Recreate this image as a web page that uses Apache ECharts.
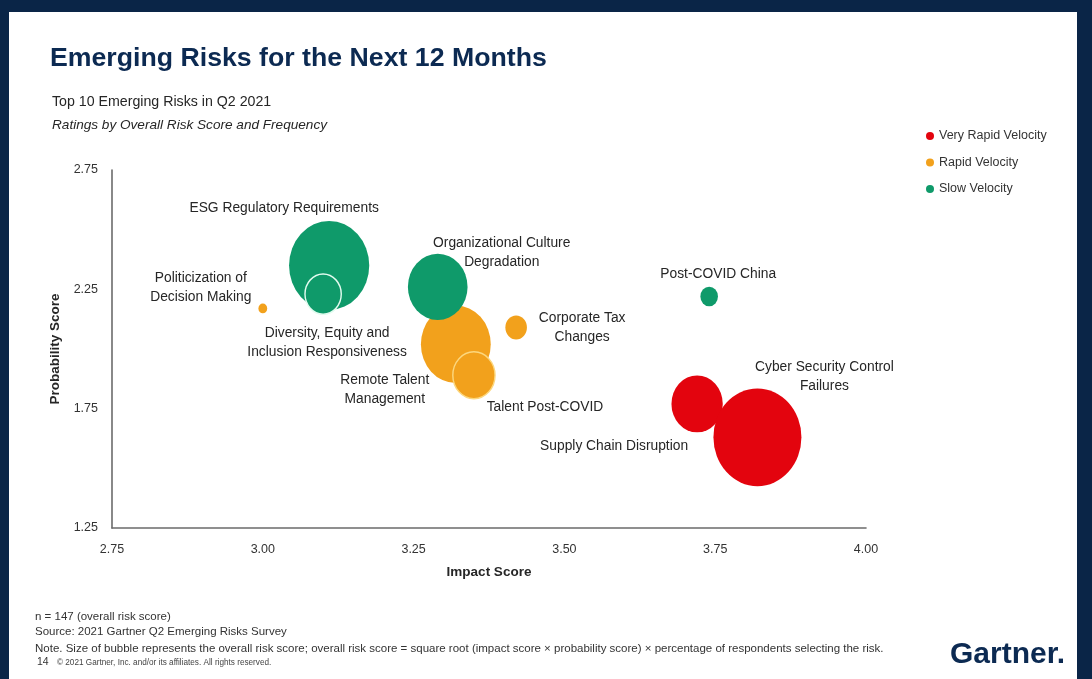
<!DOCTYPE html>
<html>
<head>
<meta charset="utf-8">
<script src="https://cdn.jsdelivr.net/npm/echarts@6/dist/echarts.min.js"></script>
<style>
  html, body { margin: 0; padding: 0; background: #0a2547; }
  #card { position: absolute; left: 9px; top: 12px; width: 1068px; height: 667px; background: #ffffff; }
  #chart { position: absolute; left: 0; top: 0; width: 1092px; height: 679px; }
</style>
</head>
<body>
<div id="card"></div>
<div id="chart"></div>
<script>
// ---- data ----
const names = [
  'ESG Regulatory Requirements',
  'Diversity, Equity and Inclusion Responsiveness',
  'Politicization of Decision Making',
  'Organizational Culture Degradation',
  'Remote Talent Management',
  'Talent Post-COVID',
  'Corporate Tax Changes',
  'Post-COVID China',
  'Supply Chain Disruption',
  'Cyber Security Control Failures'
];
const labelText = [
  'ESG Regulatory Requirements',
  'Diversity, Equity and\nInclusion Responsiveness',
  'Politicization of\nDecision Making',
  'Organizational Culture\nDegradation',
  'Remote Talent\nManagement',
  'Talent Post-COVID',
  'Corporate Tax\nChanges',
  'Post-COVID China',
  'Supply Chain Disruption',
  'Cyber Security Control\nFailures'
];
const impactScore      = [3.11, 3.10, 3.00, 3.29, 3.32, 3.35, 3.42, 3.74, 3.72, 3.82];
const probabilityScore = [2.35, 2.23, 2.17, 2.26, 2.02, 1.89, 2.09, 2.22, 1.77, 1.63];
const overallRiskScore = [0.83, 0.17, 0.01, 0.46, 0.63, 0.23, 0.06, 0.04, 0.34, 1.00];
const velocity = [
  'Slow Velocity', 'Slow Velocity', 'Rapid Velocity', 'Slow Velocity', 'Rapid Velocity',
  'Rapid Velocity', 'Rapid Velocity', 'Slow Velocity', 'Very Rapid Velocity', 'Very Rapid Velocity'
];
const velocityCategories = ['Very Rapid Velocity', 'Rapid Velocity', 'Slow Velocity'];
const xTickLabels = ['2.75', '3.00', '3.25', '3.50', '3.75', '4.00'];
const yTickLabels = ['1.25', '1.75', '2.25', '2.75'];

// ---- styling (not data) ----
const colors = { 'Very Rapid Velocity': '#e3040e', 'Rapid Velocity': '#f2a11c', 'Slow Velocity': '#0f9a6a' };
const seriesZ = { 'Very Rapid Velocity': 2, 'Rapid Velocity': 3, 'Slow Velocity': 4 };
const labelOffset = {
  'ESG Regulatory Requirements': [-45, -57],
  'Diversity, Equity and Inclusion Responsiveness': [4, 49],
  'Politicization of Decision Making': [-62, -21],
  'Organizational Culture Degradation': [64, -34],
  'Remote Talent Management': [-71, 45],
  'Talent Post-COVID': [71, 32],
  'Corporate Tax Changes': [66, 0],
  'Post-COVID China': [9, -22],
  'Supply Chain Disruption': [-83, 42],
  'Cyber Security Control Failures': [67, -61]
};
const borders = {
  'Diversity, Equity and Inclusion Responsiveness': { borderColor: '#e2fbef', borderWidth: 1.5 },
  'Talent Post-COVID': { borderColor: '#fcd77e', borderWidth: 1.5 }
};
const FONT = '"Liberation Sans", Arial, sans-serif';

const series = velocityCategories.map(cat => ({
  name: cat,
  type: 'scatter',
  z: seriesZ[cat],
  itemStyle: { color: colors[cat], opacity: 1 },
  symbol: 'circle',
  symbolSize: d => { const w = 88 * Math.sqrt(d[2]); return [w, w * 1.11]; },
  emphasis: { disabled: true },
  data: names.map((n, i) => ({ n, i })).filter(o => velocity[o.i] === cat).map(o => ({
    name: o.n,
    value: [impactScore[o.i], probabilityScore[o.i], overallRiskScore[o.i]],
    itemStyle: Object.assign({ color: colors[cat] }, borders[o.n] || {}),
    label: {
      show: true,
      position: 'inside',
      offset: labelOffset[o.n],
      formatter: labelText[o.i],
      color: '#262626',
      fontSize: 13.8,
      fontFamily: FONT,
      lineHeight: 19,
      align: 'center',
      verticalAlign: 'middle'
    }
  }))
}));

const chart = echarts.init(document.getElementById('chart'), null, { renderer: 'canvas' });
chart.setOption({
  animation: false,
  backgroundColor: 'transparent',
  textStyle: { fontFamily: FONT },
  grid: { left: 112, right: 226, top: 170, bottom: 151 },
  legend: {
    data: velocityCategories,
    orient: 'vertical',
    left: 921,
    top: 124,
    itemGap: 12.5,
    icon: 'circle',
    itemWidth: 8,
    itemHeight: 8,
    selectedMode: false,
    textStyle: { color: '#333333', fontSize: 12.5, fontFamily: FONT, lineHeight: 14 }
  },
  xAxis: {
    type: 'value',
    min: 2.75, max: 4.0, interval: 0.25,
    name: 'Impact Score',
    nameLocation: 'middle',
    nameGap: 37,
    nameTextStyle: { color: '#262626', fontSize: 13.5, fontWeight: 'bold', fontFamily: FONT },
    axisLine: { show: true, lineStyle: { color: '#6b6b6b', width: 1.6 } },
    axisTick: { show: false },
    splitLine: { show: false },
    axisLabel: {
      color: '#333333', fontSize: 12.5, margin: 15, fontFamily: FONT,
      formatter: v => xTickLabels.find(t => Math.abs(parseFloat(t) - v) < 1e-6) || v.toFixed(2)
    }
  },
  yAxis: {
    type: 'value',
    min: 1.25, max: 2.75, interval: 0.5,
    name: 'Probability Score',
    nameLocation: 'middle',
    nameGap: 46,
    nameTextStyle: { color: '#262626', fontSize: 13.5, fontWeight: 'bold', fontFamily: FONT },
    axisLine: { show: true, lineStyle: { color: '#6b6b6b', width: 1.6 } },
    axisTick: { show: false },
    splitLine: { show: false },
    axisLabel: {
      color: '#333333', fontSize: 12.5, margin: 14, fontFamily: FONT,
      formatter: v => yTickLabels.find(t => Math.abs(parseFloat(t) - v) < 1e-6) || v.toFixed(2)
    }
  },
  graphic: [
    { type: 'text', left: 50, top: 45, style: { text: 'Emerging Risks for the Next 12 Months', fill: '#0c2a52', font: 'bold 26.7px ' + FONT } },
    { type: 'text', left: 52, top: 95, style: { text: 'Top 10 Emerging Risks in Q2 2021', fill: '#262626', font: '14.2px ' + FONT } },
    { type: 'text', left: 52, top: 118, style: { text: 'Ratings by Overall Risk Score and Frequency', fill: '#262626', font: 'italic 13.6px ' + FONT } },
    { type: 'text', left: 35, top: 611, style: { text: 'n = 147 (overall risk score)', fill: '#333333', font: '11.5px ' + FONT } },
    { type: 'text', left: 35, top: 626, style: { text: 'Source: 2021 Gartner Q2 Emerging Risks Survey', fill: '#333333', font: '11.5px ' + FONT } },
    { type: 'text', left: 35, top: 643, style: { text: 'Note. Size of bubble represents the overall risk score; overall risk score = square root (impact score \u00d7 probability score) \u00d7 percentage of respondents selecting the risk.', fill: '#333333', font: '11.5px ' + FONT } },
    { type: 'text', left: 37, top: 657, style: { text: '14', fill: '#333333', font: '10.5px ' + FONT } },
    { type: 'text', left: 57, top: 659, style: { text: '\u00a9 2021 Gartner, Inc. and/or its affiliates. All rights reserved.', fill: '#444444', font: '8.2px ' + FONT } },
    { type: 'text', left: 950, top: 640, style: { text: 'Gartner.', fill: '#0c2a52', font: 'bold 30px ' + FONT } }
  ],
  series: series
});
</script>
</body>
</html>
